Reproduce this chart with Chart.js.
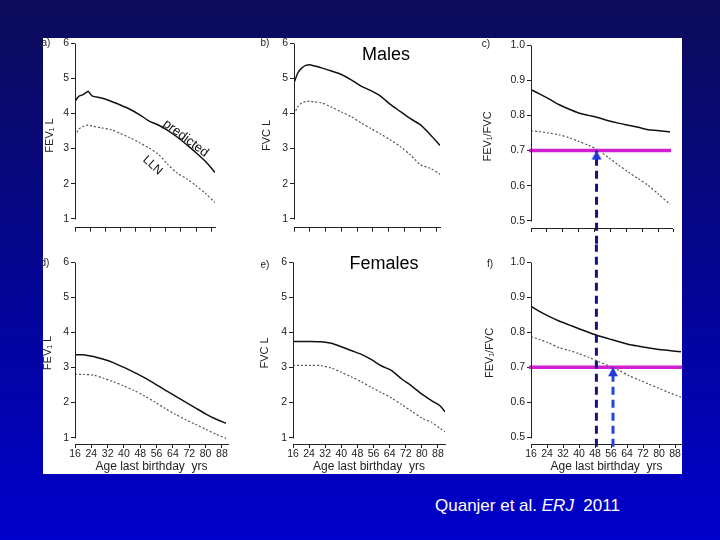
<!DOCTYPE html>
<html>
<head>
<meta charset="utf-8">
<script src="https://cdn.jsdelivr.net/npm/chart.js@4.4.1/dist/chart.umd.min.js"></script>
<style>
html, body { margin: 0; padding: 0; }
body {
    width: 720px; height: 540px; overflow: hidden; position: relative;
    background: linear-gradient(to bottom, #0c0c5a 0%, #06068c 45%, #0000cc 100%);
    font-family: "Liberation Sans", Arial, sans-serif;
}
#sheet { position: absolute; left: 43px; top: 38px; width: 639px; height: 436px; background: #fff; }
canvas { position: absolute; }
.t { position: absolute; transform: translate(-50%, -50%); white-space: pre; color: #000; }
.tag { font-size: 10px; color: #222; }
.big { font-size: 18px; }
#cite { position: absolute; left: 435px; top: 506px; transform: translateY(-50%); color: #fff; font-size: 17px; white-space: pre; }
</style>
</head>
<body>
<div id="sheet"></div>
<canvas id="pa"></canvas>
<canvas id="pb"></canvas>
<canvas id="pd"></canvas>
<canvas id="pe"></canvas>
<canvas id="pf"></canvas>
<canvas id="pc"></canvas>

<div class="t big" style="left:386px;top:54px;">Males</div>
<div class="t big" style="left:384px;top:263px;">Females</div>
<div class="t tag" style="left:46px;top:42px;">a)</div>
<div class="t tag" style="left:265px;top:42px;">b)</div>
<div class="t tag" style="left:486px;top:43px;">c)</div>
<div class="t tag" style="left:45px;top:262px;">d)</div>
<div class="t tag" style="left:265px;top:264px;">e)</div>
<div class="t tag" style="left:490px;top:263px;">f)</div>
<div id="cite">Quanjer et al. <i>ERJ</i>  2011</div>

<script>
// axis ticks
const ageTicks = [16, 24, 32, 40, 48, 56, 64, 72, 80, 88];
const litreTicks = [1, 2, 3, 4, 5, 6];
const ratioTicks = [0.5, 0.6, 0.7, 0.8, 0.9, 1.0];

// a) males FEV1
const ageA  = [16, 18, 20, 22, 23, 25, 30, 35, 40, 45, 50, 55, 60, 65, 70, 75, 80, 85, 90];
const predA = [4.35, 4.49, 4.53, 4.60, 4.63, 4.50, 4.44, 4.35, 4.24, 4.12, 3.97, 3.79, 3.67, 3.52, 3.33, 3.11, 2.88, 2.63, 2.32];
const llnA  = [3.36, 3.55, 3.62, 3.66, 3.67, 3.64, 3.59, 3.54, 3.43, 3.31, 3.17, 3.02, 2.84, 2.55, 2.30, 2.14, 1.94, 1.72, 1.46];

// b) males FVC
const ageB  = [16, 18, 20, 22, 24, 26, 30, 35, 40, 45, 50, 55, 60, 65, 70, 75, 80, 85, 90];
const predB = [4.87, 5.16, 5.30, 5.37, 5.39, 5.36, 5.30, 5.21, 5.11, 4.96, 4.78, 4.65, 4.49, 4.25, 4.05, 3.85, 3.68, 3.40, 3.09];
const llnB  = [3.97, 4.20, 4.30, 4.34, 4.35, 4.33, 4.30, 4.18, 4.04, 3.91, 3.73, 3.57, 3.41, 3.24, 3.05, 2.82, 2.54, 2.44, 2.27];

// c) males FEV1/FVC
const ageC  = [16, 20, 25, 30, 35, 40, 45, 50, 55, 60, 65, 70, 75, 80, 86];
const predC = [0.873, 0.862, 0.847, 0.831, 0.818, 0.807, 0.800, 0.793, 0.785, 0.778, 0.772, 0.766, 0.759, 0.757, 0.753];
const llnC  = [0.756, 0.754, 0.750, 0.745, 0.737, 0.726, 0.715, 0.701, 0.680, 0.659, 0.639, 0.620, 0.601, 0.577, 0.547];

// d) females FEV1
const ageD  = [16, 20, 25, 30, 35, 40, 45, 50, 55, 60, 65, 70, 75, 80, 85, 90];
const predD = [3.36, 3.36, 3.31, 3.23, 3.13, 3.00, 2.86, 2.71, 2.54, 2.36, 2.19, 2.02, 1.85, 1.68, 1.53, 1.41];
const llnD  = [2.80, 2.80, 2.78, 2.69, 2.59, 2.47, 2.34, 2.19, 2.02, 1.84, 1.67, 1.52, 1.38, 1.24, 1.10, 0.98];

// e) females FVC
const ageE  = [16, 20, 25, 30, 35, 40, 45, 50, 55, 60, 65, 70, 75, 80, 85, 89, 91.5];
const predE = [3.74, 3.74, 3.74, 3.73, 3.69, 3.59, 3.48, 3.37, 3.22, 3.04, 2.91, 2.67, 2.47, 2.24, 2.05, 1.91, 1.74];
const llnE  = [3.06, 3.06, 3.06, 3.05, 2.98, 2.86, 2.73, 2.59, 2.43, 2.28, 2.13, 1.94, 1.75, 1.56, 1.43, 1.27, 1.17];

// f) females FEV1/FVC
const ageF  = [16, 20, 25, 30, 35, 40, 45, 50, 55, 60, 65, 70, 75, 80, 85, 91];
const predF = [0.874, 0.860, 0.845, 0.832, 0.821, 0.810, 0.799, 0.789, 0.781, 0.773, 0.765, 0.760, 0.755, 0.751, 0.748, 0.744];
const llnF  = [0.787, 0.780, 0.769, 0.756, 0.748, 0.739, 0.728, 0.716, 0.704, 0.691, 0.676, 0.664, 0.652, 0.640, 0.628, 0.615];

// fixed 0.7 cut-off and the ages where LLN crosses it
const fixedRatio = 0.7;
const maleCrossAge = 49;
const femaleCrossAge = 57;

const FAMILY = '"Liberation Sans", Arial, sans-serif';
const font = size => ({family: FAMILY, size: size});

// small up-pointing arrow head whose tip sits on the point
const arrowHead = document.createElement('canvas');
arrowHead.width = 12; arrowHead.height = 22;
(function () {
    const c = arrowHead.getContext('2d');
    c.fillStyle = '#2238d8';
    c.beginPath();
    c.moveTo(6, 11); c.lineTo(11, 20); c.lineTo(1, 20);
    c.closePath(); c.fill();
})();

const axisLine = {
    id: 'axisLine',
    afterDraw(chart, args, opts) {
        const {ctx, chartArea, scales: {y}} = chart;
        const x0 = Math.round(chartArea.left) + 0.5;
        ctx.save();
        ctx.strokeStyle = '#222';
        ctx.lineWidth = 1;
        ctx.beginPath();
        ctx.moveTo(x0, Math.round(y.getPixelForValue(opts.from)) + 0.5);
        ctx.lineTo(x0, Math.round(y.getPixelForValue(opts.to)) + 0.5);
        ctx.stroke();
        ctx.restore();
    }
};

const notes = {
    id: 'notes',
    afterDatasetsDraw(chart, args, opts) {
        const {ctx, scales: {x, y}} = chart;
        (opts.items || []).forEach(n => {
            ctx.save();
            ctx.translate(x.getPixelForValue(n.age), y.getPixelForValue(n.val));
            ctx.rotate(n.angle * Math.PI / 180);
            ctx.font = n.size + 'px ' + FAMILY;
            ctx.fillStyle = '#111';
            ctx.textAlign = 'center';
            ctx.textBaseline = 'middle';
            ctx.fillText(n.text, 0, 0);
            ctx.restore();
        });
    }
};

const pts = (xs, ys) => xs.map((x, i) => ({x: x, y: ys[i]}));
const predLine = (xs, ys) => ({data: pts(xs, ys), showLine: true, borderColor: '#111', borderWidth: 1.5, pointRadius: 0, tension: 0.25});
const llnLine = (xs, ys) => ({data: pts(xs, ys), showLine: true, borderColor: '#555', borderWidth: 1.2, borderDash: [2, 2], pointRadius: 0, tension: 0.25});
const ratioLine = (from, to) => ({
    data: [{x: from, y: fixedRatio}, {x: to, y: fixedRatio}],
    showLine: true, borderColor: '#d01fd0', borderWidth: 3.5, pointRadius: 0, clip: false
});
const dropLine = (age, bottom, top, color, arrow) => ({
    data: [{x: age, y: bottom}, {x: age, y: top}],
    showLine: true, borderColor: color, borderWidth: 3, borderDash: [8, 5], clip: false,
    pointStyle: arrow ? arrowHead : 'circle',
    pointRadius: c => (arrow && c.dataIndex === 1 ? 6 : 0)
});

function makePanel(id, g, o) {
    const cv = document.getElementById(id);
    cv.width = g.w; cv.height = g.h;
    cv.style.left = g.left + 'px';
    cv.style.top = g.top + 'px';
    return new Chart(cv, {
        type: 'scatter',
        data: {datasets: o.datasets},
        plugins: [axisLine, notes],
        options: {
            responsive: false,
            animation: false,
            devicePixelRatio: 1,
            events: [],
            layout: {padding: {top: g.pt, right: 8, bottom: 0, left: 0}},
            plugins: {
                legend: {display: false},
                tooltip: {enabled: false},
                axisLine: {from: o.yTicks[0], to: o.yTicks[o.yTicks.length - 1]},
                notes: {items: o.notes || []}
            },
            scales: {
                x: {
                    type: 'linear', min: o.xMin, max: o.xMax,
                    afterBuildTicks: s => { s.ticks = ageTicks.map(v => ({value: v})); },
                    afterFit: s => { s.height = g.xh; },
                    ticks: {
                        autoSkip: false, maxRotation: 0, padding: 0, color: '#222', font: font(10.5),
                        callback: v => (o.xLabels ? v : '')
                    },
                    grid: {drawOnChartArea: false, tickLength: 4, color: '#222'},
                    border: {display: true, color: '#222'},
                    title: {
                        display: !!o.xLabels, text: 'Age last birthday  yrs', color: '#222',
                        font: font(12), padding: {top: 0, bottom: 1}
                    }
                },
                y: {
                    type: 'linear', min: o.yMin, max: o.yMax,
                    afterBuildTicks: s => { s.ticks = o.yTicks.map(v => ({value: v})); },
                    afterFit: s => { s.width = g.yw; },
                    ticks: {padding: 2, color: '#222', font: font(10.5), callback: o.yFmt},
                    grid: {drawOnChartArea: false, tickLength: 4, color: '#222'},
                    border: {display: false},
                    title: {display: true, text: o.yTitle, color: '#222', font: font(11)}
                }
            }
        }
    });
}

const litreFmt = v => v;
const ratioFmt = v => v.toFixed(1);

makePanel('pa', {left: 39, top: 35, w: 184, h: 201, pt: 8, yw: 36, xh: 8}, {
    xMin: 16, xMax: 90, yMin: 0.744, yMax: 6, yTicks: litreTicks, yFmt: litreFmt, yTitle: 'FEV\u2081 L',
    datasets: [predLine(ageA, predA), llnLine(ageA, llnA)],
    notes: [
        {text: 'predicted', age: 74.5, val: 3.29, angle: 37, size: 13},
        {text: 'LLN', age: 57, val: 2.52, angle: 42, size: 12}
    ]
});

makePanel('pb', {left: 256, top: 35, w: 192, h: 201, pt: 8, yw: 38, xh: 8}, {
    xMin: 16, xMax: 90, yMin: 0.744, yMax: 6, yTicks: litreTicks, yFmt: litreFmt, yTitle: 'FVC L',
    datasets: [predLine(ageB, predB), llnLine(ageB, llnB)]
});

makePanel('pc', {left: 477, top: 36, w: 204, h: 232, pt: 9, yw: 54, xh: 40}, {
    xMin: 16, xMax: 87, yMin: 0.48, yMax: 1.0, yTicks: ratioTicks, yFmt: ratioFmt, yTitle: 'FEV\u2081/FVC',
    datasets: [
        dropLine(maleCrossAge, 0.435, fixedRatio, '#14147e', true),
        ratioLine(15, 86.5),
        predLine(ageC, predC), llnLine(ageC, llnC)
    ]
});

makePanel('pd', {left: 37, top: 253, w: 199, h: 222, pt: 9, yw: 38, xh: 31}, {
    xMin: 16, xMax: 91, yMin: 0.82, yMax: 6, yTicks: litreTicks, yFmt: litreFmt, yTitle: 'FEV\u2081 L',
    xLabels: true,
    datasets: [predLine(ageD, predD), llnLine(ageD, llnD)]
});

makePanel('pe', {left: 254, top: 253, w: 199, h: 222, pt: 9, yw: 39, xh: 31}, {
    xMin: 16, xMax: 91.5, yMin: 0.82, yMax: 6, yTicks: litreTicks, yFmt: litreFmt, yTitle: 'FVC L',
    xLabels: true,
    datasets: [predLine(ageE, predE), llnLine(ageE, llnE)]
});

makePanel('pf', {left: 479, top: 225, w: 212, h: 250, pt: 37, yw: 52, xh: 31}, {
    xMin: 16, xMax: 91.5, yMin: 0.4815, yMax: 1.0, yTicks: ratioTicks, yFmt: ratioFmt, yTitle: 'FEV\u2081/FVC',
    xLabels: true,
    datasets: [
        dropLine(femaleCrossAge, 0.474, fixedRatio, '#2444e4', true),
        dropLine(maleCrossAge - 0.3, 0.474, 1.05, '#14147e', false),
        ratioLine(15, 91.5),
        predLine(ageF, predF), llnLine(ageF, llnF)
    ]
});
</script>
</body>
</html>
